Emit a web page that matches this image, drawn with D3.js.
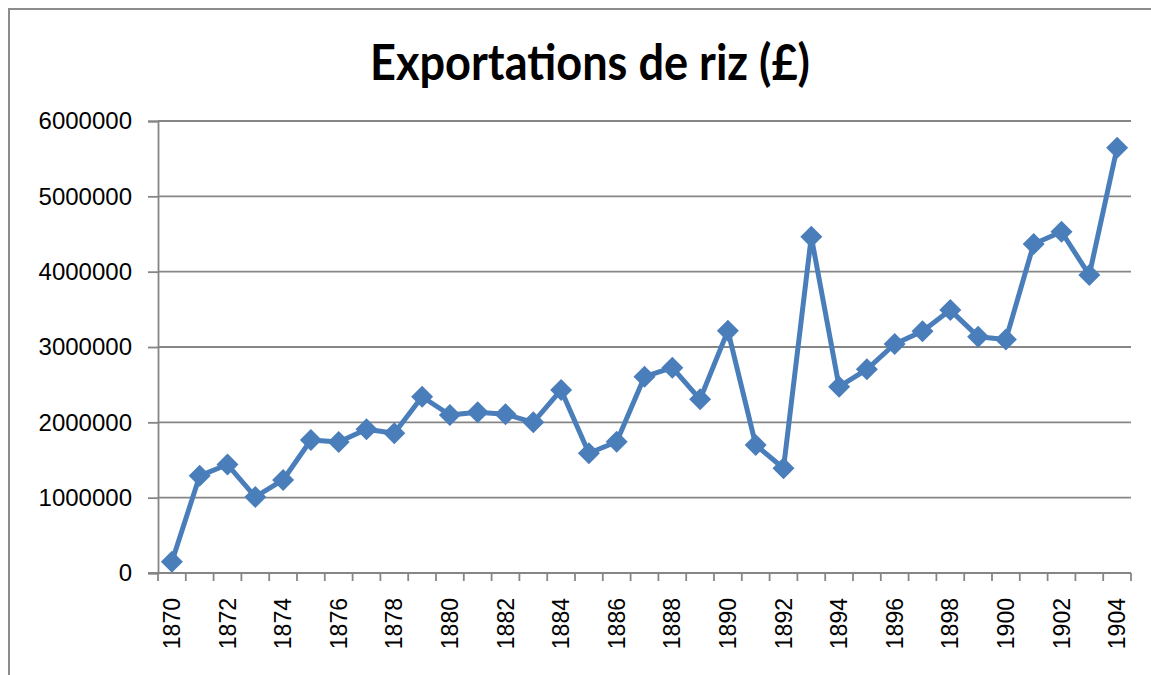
<!DOCTYPE html>
<html>
<head>
<meta charset="utf-8">
<script src="https://cdn.jsdelivr.net/npm/d3@7"></script>
<style>
  body { margin: 0; background: #fff; }
  svg { display: block; }
</style>
</head>
<body>
<div id="chart"></div>
<script>
// years and exports of rice (pounds sterling)
let years = d3.range(1870, 1905)
let exportsValues = [
  150000, 1290000, 1440000, 1010000, 1235000, 1765000, 1740000, 1907000, 1855000, 2340000,
  2097000, 2133000, 2107000, 2000000, 2430000, 1589000, 1743000, 2606000, 2726000, 2306000,
  3217000, 1700000, 1390000, 4465000, 2473000, 2704000, 3040000, 3210000, 3490000, 3137000,
  3100000, 4367000, 4530000, 3956000, 5646000
]
let yTicks = [0, 1000000, 2000000, 3000000, 4000000, 5000000, 6000000]
let xLabels = years.filter(y => (y - 1870) % 2 === 0)

let width = 1151
let height = 675
let margin = { top: 121, left: 158, right: 20, bottom: 102 }

let svg = d3
  .select('#chart')
  .append('svg')
  .attr('width', width)
  .attr('height', height)

// chart frame (right and bottom edges fall outside the picture)
svg
  .append('rect')
  .attr('x', 9)
  .attr('y', 9)
  .attr('width', width + 20)
  .attr('height', height + 20)
  .attr('fill', 'none')
  .attr('stroke', '#8c8c8c')
  .attr('stroke-width', 2)

let x = d3
  .scaleBand()
  .domain(years)
  .range([margin.left, 1131])

let y = d3
  .scaleLinear()
  .domain([0, 6000000])
  .range([573, margin.top])

// title
svg
  .append('text')
  .attr('x', 590)
  .attr('y', 80)
  .attr('text-anchor', 'middle')
  .attr('font-family', 'Lato, "Open Sans", sans-serif')
  .attr('font-weight', 'bold')
  .attr('font-size', 50)
  .attr('textLength', 440)
  .attr('lengthAdjust', 'spacingAndGlyphs')
  .attr('fill', '#000')
  .text('Exportations de riz (£)')

// gridlines
svg
  .append('g')
  .selectAll('line')
  .data(yTicks.slice(1))
  .enter()
  .append('line')
  .attr('x1', margin.left)
  .attr('x2', 1131)
  .attr('y1', d => y(d))
  .attr('y2', d => y(d))
  .attr('stroke', '#868686')
  .attr('stroke-width', 1.8)

// y axis
let yAxis = svg
  .append('g')
  .attr('transform', `translate(${margin.left},0)`)
  .call(d3.axisLeft(y).tickValues(yTicks).tickFormat(d3.format('d')).tickSize(10).tickPadding(16))

yAxis.select('.domain').attr('stroke', '#868686').attr('stroke-width', 1.8)
yAxis.selectAll('.tick line').attr('stroke', '#868686').attr('stroke-width', 1.8)
yAxis
  .selectAll('.tick text')
  .attr('font-family', '"Liberation Sans", Arial, sans-serif')
  .attr('font-size', 24)
  .attr('fill', '#000')

// x axis: ticks on category boundaries
let xAxis = svg.append('g')

xAxis
  .append('line')
  .attr('x1', margin.left - 10)
  .attr('x2', 1131)
  .attr('y1', y(0))
  .attr('y2', y(0))
  .attr('stroke', '#868686')
  .attr('stroke-width', 1.8)

let boundaries = years.map(d => x(d)).concat([x(1904) + x.bandwidth()])

xAxis
  .selectAll('.xtick')
  .data(boundaries)
  .enter()
  .append('line')
  .attr('class', 'xtick')
  .attr('x1', d => d)
  .attr('x2', d => d)
  .attr('y1', y(0))
  .attr('y2', y(0) + 8)
  .attr('stroke', '#868686')
  .attr('stroke-width', 1.8)

xAxis
  .selectAll('.xlabel')
  .data(xLabels)
  .enter()
  .append('text')
  .attr('class', 'xlabel')
  .attr('transform', d => `translate(${x(d) + x.bandwidth() / 2 + 8},598) rotate(-90)`)
  .attr('text-anchor', 'end')
  .attr('font-family', '"Liberation Sans", Arial, sans-serif')
  .attr('font-size', 23)
  .attr('fill', '#000')
  .text(d => d)

// the series
let points = years.map((d, i) => [x(d) + x.bandwidth() / 2, y(exportsValues[i])])

svg
  .append('path')
  .datum(points)
  .attr('d', d3.line())
  .attr('fill', 'none')
  .attr('stroke', '#4a7ebb')
  .attr('stroke-width', 5)
  .attr('stroke-linejoin', 'round')

svg
  .append('g')
  .selectAll('path')
  .data(points)
  .enter()
  .append('path')
  .attr('transform', d => `translate(${d[0]},${d[1]})`)
  .attr('d', 'M0,-11L11,0L0,11L-11,0Z')
  .attr('fill', '#4a7ebb')
</script>
</body>
</html>
